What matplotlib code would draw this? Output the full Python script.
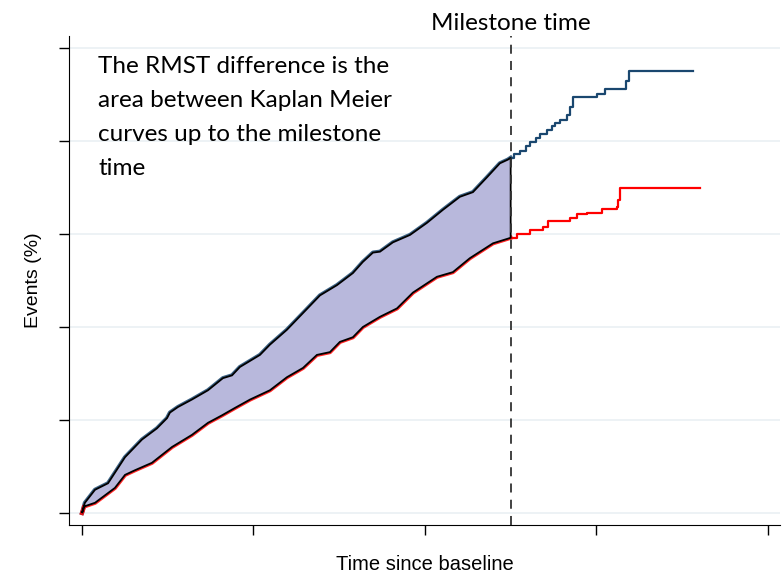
import numpy as np
import matplotlib.pyplot as plt

# Kaplan-Meier cumulative events (%) by time since baseline
milestone = 2.5

blue_time = [0.0, 0.017, 0.076, 0.152, 0.251, 0.350, 0.437, 0.496, 0.513, 0.560,
             0.641, 0.735, 0.822, 0.875, 0.921, 1.038, 1.096, 1.195, 1.289, 1.388,
             1.487, 1.580, 1.638, 1.697, 1.738, 1.813, 1.913, 2.012, 2.105, 2.204,
             2.280, 2.362, 2.437, 2.484, 2.5,
             2.52, 2.554, 2.59, 2.612, 2.65, 2.671, 2.711, 2.74, 2.758, 2.787,
             2.828, 2.845, 2.863, 3.003, 3.049, 3.172, 3.190, 3.563]
blue_events = [0.0, 1.1, 2.5, 3.2, 6.0, 7.9, 9.1, 10.2, 10.8, 11.4,
               12.2, 13.2, 14.5, 14.8, 15.7, 17.0, 18.1, 19.7, 21.5, 23.4,
               24.5, 25.8, 27.0, 28.0, 28.1, 29.1, 29.9, 31.2, 32.6, 34.0,
               34.5, 36.1, 37.6, 38.0, 38.2,
               38.6, 38.9, 39.5, 39.9, 40.3, 40.7, 41.2, 41.6, 41.9, 42.3,
               42.8, 43.7, 44.7, 45.1, 45.6, 46.5, 47.5, 47.5]

red_time = [0.0, 0.006, 0.012, 0.076, 0.192, 0.251, 0.309, 0.408, 0.525, 0.641,
            0.735, 0.816, 0.892, 0.980, 1.096, 1.195, 1.289, 1.370, 1.446, 1.504,
            1.580, 1.638, 1.738, 1.837, 1.930, 2.070, 2.163, 2.262, 2.397, 2.484, 2.5,
            2.536, 2.612, 2.688, 2.718, 2.845, 2.886, 2.945, 3.032, 3.120, 3.125,
            3.137, 3.604]
red_events = [0.0, 0.3, 0.7, 1.1, 2.7, 4.1, 4.6, 5.4, 7.1, 8.4,
              9.7, 10.5, 11.3, 12.2, 13.2, 14.6, 15.6, 17.0, 17.3, 18.4,
              18.9, 20.0, 21.1, 22.0, 23.7, 25.4, 25.9, 27.4, 29.0, 29.5, 29.6,
              30.0, 30.4, 30.8, 31.4, 31.7, 32.1, 32.3, 32.7, 32.9, 33.7,
              34.9, 34.9]

x_ticks = [0, 1, 2, 3, 4]
y_ticks = [0, 10, 20, 30, 40, 50]

BLUE = "#1a476f"
RED = "#ff0000"
FILL = "#b8b8dc"


def main():
    bt = np.array(blue_time)
    be = np.array(blue_events)
    rt = np.array(red_time)
    re = np.array(red_events)

    fig = plt.figure(figsize=(7.83, 5.77), dpi=100)
    ax = fig.add_axes([0.0881, 0.0901, 0.9079, 0.8475])

    for y in y_ticks:
        ax.axhline(y, color="#eaf0f3", lw=1.2, zorder=0)

    # shaded RMST difference up to the milestone
    bm = bt <= milestone
    rm = rt <= milestone
    poly_x = np.concatenate([bt[bm], rt[rm][::-1]])
    poly_y = np.concatenate([be[bm], re[rm][::-1]])
    ax.plot(bt[bm], be[bm], color=BLUE, lw=3, alpha=0.85, zorder=2)
    ax.plot(rt[rm], re[rm], color=RED, lw=3, alpha=0.85, zorder=2)
    ax.fill(poly_x, poly_y, facecolor=FILL, edgecolor="black", lw=1.3, zorder=3)

    # step curves beyond the milestone
    ba = bt >= milestone
    ra = rt >= milestone
    ax.step(bt[ba], be[ba], where="post", color=BLUE, lw=1.6, zorder=2)
    ax.step(rt[ra], re[ra], where="post", color=RED, lw=1.6, zorder=2)

    ax.axvline(milestone, color="#333333", lw=1.3, ls=(0, (5, 4)), zorder=4)
    ax.annotate("Milestone time", xy=(milestone, 1.025),
                xycoords=("data", "axes fraction"), ha="center", va="center",
                fontsize=17.5, family="Lato", annotation_clip=False)

    ax.text(0.041, 0.96,
            "The RMST difference is the\narea between Kaplan Meier\n"
            "curves up to the milestone\ntime",
            transform=ax.transAxes, ha="left", va="top", fontsize=17.5,
            family="Lato", linespacing=1.78)

    ax.set_xlim(-0.0758, 4.07)
    ax.set_ylim(-1.29, 51.29)
    ax.set_xticks(x_ticks)
    ax.set_yticks(y_ticks)
    ax.set_xticklabels([])
    ax.set_yticklabels([])
    ax.tick_params(axis="both", direction="out", length=7, width=1, color="black")
    ax.spines["top"].set_visible(False)
    ax.spines["right"].set_visible(False)

    ax.set_xlabel("Time since baseline", fontsize=14.5, family="Liberation Sans",
                  labelpad=11)
    ax.set_ylabel("Events (%)", fontsize=14, family="Liberation Sans",
                  labelpad=9)

    fig.savefig("out.png", dpi=100)


if __name__ == "__main__":
    main()
